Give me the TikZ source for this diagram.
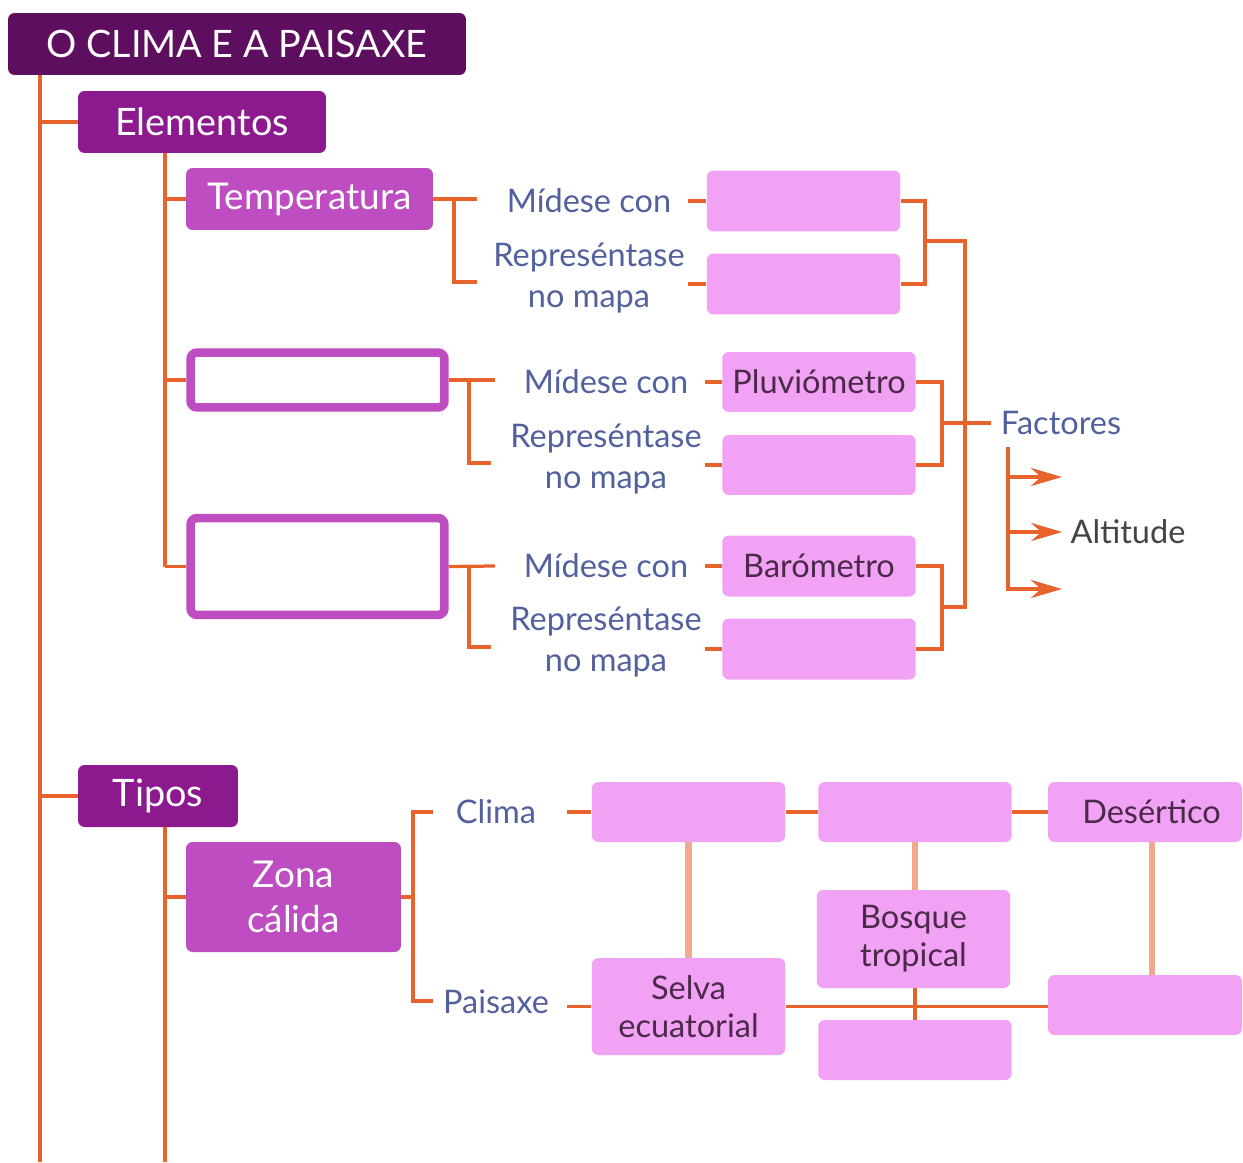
\documentclass[tikz,border=0pt]{standalone}
\usepackage{fontspec}
\setmainfont{Lato}
\usetikzlibrary{positioning}
\usetikzlibrary{arrows.meta}

\definecolor{titulocor}{HTML}{5E0E5E}
\definecolor{morado}{HTML}{8C1A8E}
\definecolor{malva}{HTML}{BD4DC0}
\definecolor{rosa}{HTML}{F2A2F4}
\definecolor{laranxa}{HTML}{E8622C}
\definecolor{salmon}{HTML}{F1A98E}
\definecolor{azul}{HTML}{52609E}
\definecolor{escuro}{HTML}{4A2A48}
\definecolor{gris}{HTML}{444444}

\tikzset{
    caixa/.style={rectangle,rounded corners=0.13cm,inner sep=0pt,align=center},
    titulocaixa/.style={caixa,fill=titulocor,text=white,font=\fontsize{21.5}{26}\selectfont,minimum height=1.24cm},
    nivelun/.style={caixa,fill=morado,text=white,font=\fontsize{21.5}{25}\selectfont,minimum height=1.24cm},
    niveldous/.style={caixa,fill=malva,text=white,font=\fontsize{21}{25.5}\selectfont},
    baleira/.style={caixa,draw=malva,line width=0.17cm,fill=white,minimum width=5.08cm},
    rosacaixa/.style={caixa,fill=rosa,text=escuro,font=\fontsize{18.5}{22}\selectfont,minimum width=3.87cm,minimum height=1.22cm},
    etiqueta/.style={text=azul,font=\fontsize{18.5}{23}\selectfont,align=center,inner sep=1pt},
    linea/.style={draw=laranxa,line width=0.065cm},
    lineaclara/.style={draw=salmon,line width=0.13cm},
    frecha/.style={draw=laranxa,line width=0.09cm,-{Stealth[length=0.62cm,width=0.36cm,inset=0.2cm]}}
}

\begin{document}
\begin{tikzpicture}[x=0.02cm,y=-0.02cm]
    \useasboundingbox (0,0) rectangle (1243,1162);

    % caixas principais
    \node[titulocaixa,minimum width=9.16cm] (titulo) at (237,44) {O CLIMA E A PAISAXE};
    \node[nivelun,minimum width=4.96cm] (elem) at (202,122) {Elementos};
    \node[nivelun,minimum width=3.2cm] (tipos) at (158,796) {Tipos};
    \node[niveldous,minimum width=4.94cm,minimum height=1.24cm] (temp) at (309.5,199) {Temperatura};
    \node[baleira,minimum height=1.1cm] (prec) at (317.5,380) {};
    \node[baleira,minimum height=1.94cm] (pres) at (317.5,566.5) {};
    \node[niveldous,minimum width=4.3cm,minimum height=2.2cm] (zona) at (293.5,897) {Zona\\cálida};

    % elementos
    \node[etiqueta] (med1) at (589,201) {Mídese con};
    \node[etiqueta] (rep1) at (589,278) {Represéntase\\no mapa};
    \node[rosacaixa] (t1) at (803.5,201) {};
    \node[rosacaixa] (t2) at (803.5,284) {};

    \node[etiqueta] (med2) at (606,382) {Mídese con};
    \node[etiqueta] (rep2) at (606,459) {Represéntase\\no mapa};
    \node[rosacaixa,minimum height=1.2cm] (pluv) at (819,382) {Pluviómetro};
    \node[rosacaixa,minimum height=1.2cm] (p2) at (819,465) {};

    \node[etiqueta] (med3) at (606,566) {Mídese con};
    \node[etiqueta] (rep3) at (606,642) {Represéntase\\no mapa};
    \node[rosacaixa] (baro) at (819,566) {Barómetro};
    \node[rosacaixa] (b2) at (819,649) {};

    \node[etiqueta,inner xsep=0.2cm] (factores) at (1061,423) {Factores};
    \node[etiqueta,text=gris,inner xsep=0.16cm] (altitude) at (1128,532) {Altitude};

    % tipos
    \node[etiqueta] (clima) at (496,812) {Clima};
    \node[etiqueta] (paisaxe) at (496,1002) {Paisaxe};
    \node[rosacaixa,minimum height=1.2cm] (c1) at (688.5,812) {};
    \node[rosacaixa,minimum height=1.2cm] (c2) at (915,812) {};
    \node[rosacaixa,minimum width=3.88cm,minimum height=1.2cm] (des) at (1145,812) {\hspace{0.26cm}Desértico};
    \node[rosacaixa,minimum height=1.94cm,font=\fontsize{18.5}{22}\selectfont] (selva) at (688.5,1006.5) {Selva\\ecuatorial};
    \node[rosacaixa,minimum height=1.96cm,font=\fontsize{18.5}{21.5}\selectfont] (bosque) at (913.5,939) {Bosque\\tropical};
    \node[rosacaixa,minimum width=3.88cm,minimum height=1.2cm] (lr) at (1145,1005) {};
    \node[rosacaixa,minimum height=1.2cm] (lb) at (915,1050) {};

    % puntos de unión
    \coordinate (tronco) at (40,1162);
    \coordinate (rama) at (165,1162);
    \coordinate (g1m) at (477,199);
    \coordinate (g1v) at (454,282);
    \coordinate (g1r) at (477,282);
    \coordinate (g1d) at (925,241);
    \coordinate (g2m) at (495,380);
    \coordinate (g2v) at (469,463);
    \coordinate (g2r) at (491,463);
    \coordinate (g2d) at (942,423);
    \coordinate (g3m) at (495,566);
    \coordinate (g3v) at (469,647);
    \coordinate (g3r) at (491,647);
    \coordinate (g3d) at (942,607);
    \coordinate (ftop) at (965,241);
    \coordinate (fbot) at (965,607);
    \coordinate (fa) at (1008,447);
    \coordinate (fb) at (1008,591);
    \coordinate (a1) at (1062,477);
    \coordinate (a3) at (1062,589);
    \coordinate (zv) at (413,812);
    \coordinate (zc) at (433,812);
    \coordinate (zp) at (433,1001);

    % troncos
    \draw[linea] (titulo.south -| tronco) -- (tronco);
    \draw[linea] (elem.west -| tronco) -- (elem.west);
    \draw[linea] (tipos.west -| tronco) -- (tipos.west);
    \draw[linea] (elem.south -| rama) -- (pres.west -| rama);
    \draw[linea] (temp.west -| rama) -- (temp.west);
    \draw[linea] (prec.west -| rama) -- (prec.west);
    \draw[linea] (pres.west -| rama) -- (pres.west);
    \draw[linea] (tipos.south -| rama) -- (rama);
    \draw[linea] (zona.west -| rama) -- (zona.west);

    % corchetes dos elementos
    \draw[linea] (temp.east) -- (g1m);
    \draw[linea] (g1r) -- (g1v) -- (g1v |- temp.east);
    \draw[linea] (prec.east) -- (g2m);
    \draw[linea] (g2r) -- (g2v) -- (g2v |- prec.east);
    \draw[linea] (pres.east) -- (g3m);
    \draw[linea] (g3r) -- (g3v) -- (g3v |- pres.east);

    \draw[linea] ([xshift=-0.36cm]t1.west) -- (t1.west);
    \draw[linea] ([xshift=-0.36cm]t2.west) -- (t2.west);
    \draw[linea] ([xshift=-0.34cm]pluv.west) -- (pluv.west);
    \draw[linea] ([xshift=-0.34cm]p2.west) -- (p2.west);
    \draw[linea] ([xshift=-0.34cm]baro.west) -- (baro.west);
    \draw[linea] ([xshift=-0.34cm]b2.west) -- (b2.west);

    \draw[linea] (t1.east) -| (g1d) |- (t2.east);
    \draw[linea] (pluv.east) -| (g2d) |- (p2.east);
    \draw[linea] (baro.east) -| (g3d) |- (b2.east);
    \draw[linea] (g1d) -- (ftop) -- (fbot) -- (g3d);
    \draw[linea] (g2d) -- (factores.west);

    % factores
    \draw[linea,line width=0.09cm] (fa) -- (fb);
    \draw[frecha] (a1 -| fa) -- (a1);
    \draw[frecha] (altitude.west -| fa) -- (altitude.west);
    \draw[frecha] (a3 -| fa) -- (a3);

    % zona cálida
    \draw[linea] (zona.east) -- (zona.east -| zv);
    \draw[linea] (zc) -- (zv) |- (zp);
    \draw[linea] ([xshift=-0.48cm]c1.west) -- (c1.west);
    \draw[linea] ([xshift=-0.48cm]selva.west) -- (selva.west);
    \draw[linea] (c1.east) -- (c2.west);
    \draw[linea] (c2.east) -- (des.west);
    \draw[lineaclara] (c1.south) -- (selva.north);
    \draw[lineaclara] (c2.south) -- (c2.south |- bosque.north);
    \draw[lineaclara] ([xshift=0.14cm]des.south) -- ([xshift=0.14cm]lr.north);
    \draw[linea] (selva.east) -- (selva.east -| lr.west);
    \draw[linea] (c2.south |- bosque.south) -- (c2.south |- lb.north);
\end{tikzpicture}
\end{document}
